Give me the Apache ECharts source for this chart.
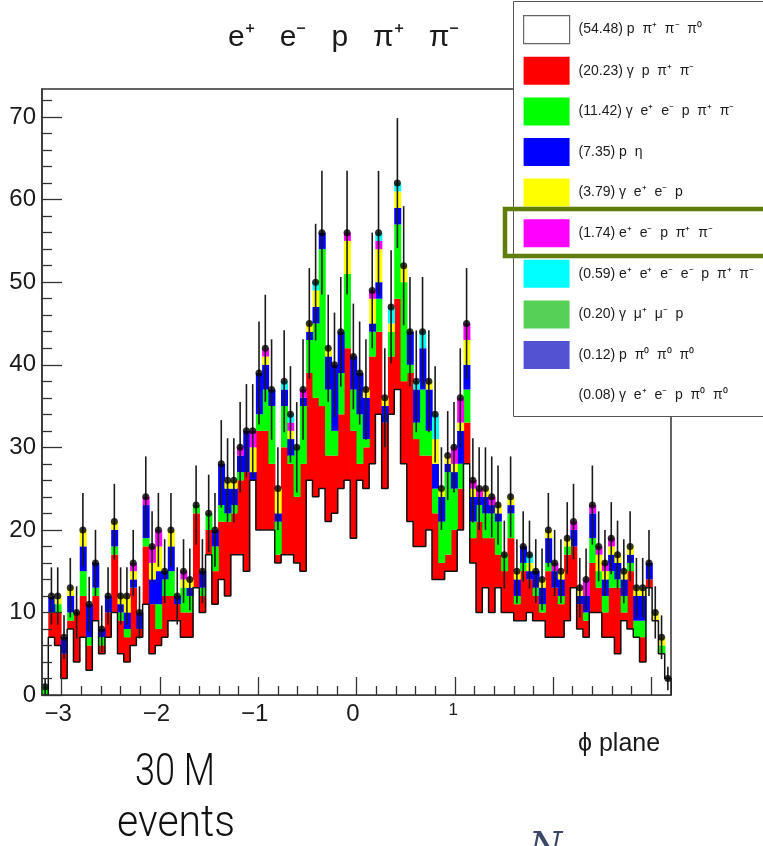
<!DOCTYPE html>
<html><head><meta charset="utf-8">
<script src="https://cdn.jsdelivr.net/npm/echarts@6.0.0/dist/echarts.min.js"></script>
<style>html,body{margin:0;padding:0;background:#fff;}#chart{width:763px;height:846px;}</style>
</head><body><div id="chart"></div>
<script>
// ---------------- data ----------------
const xRange = [-3.2, 3.2];
const nBins = 100;
const xTickValues = [-3, -2, -1, 0, 1];
const xTickLabels = ['\u22123', '\u22122', '\u22121', '0', '1'];
const xMajorTicks = [-3, -2, -1, 0, 1, 2, 3];
const xMinorTicks = [-2.8,-2.6,-2.4,-2.2,-1.8,-1.6,-1.4,-1.2,-0.8,-0.6,-0.4,-0.2,0.2,0.4,0.6,0.8,1.2,1.4,1.6,1.8,2.2,2.4,2.6,2.8];
const yTickValues = [0, 10, 20, 30, 40, 50, 60, 70];
const yMinorTicks = [2,4,6,8,12,14,16,18,22,24,26,28,32,34,36,38,42,44,46,48,52,54,56,58,62,64,66,68,72];
const yMax = 73.4;

// observed counts per bin (black points)
const dataCounts = [
 1,12,12,7,13,10,20,11,16,8,
 12,21,12,12,16,10,24,18,20,15,
 20,12,15,14,23,15,22,20,28,26,
 26,30,32,32,39,42,37,25,38,34,
 30,37,45,50,56,42,40,44,56,41,
 39,37,49,56,36,47,62,52,44,38,
 44,38,34,25,29,30,36,45,26,25,
 25,24,23,17,24,15,18,17,15,14,
 20,16,15,19,21,13,14,23,18,16,
 19,17,15,18,13,13,16,10,7,2];

// stacked components (bottom to top)
const cPPipPimPi0 = [
 0,7,6,2,8,4,7,3,9,5, 7,10,5,4,6,7,11,5,6,7, 9,9,7,7,13,10,17,11,14,12,
 17,17,15,26,20,20,20,16,17,17, 16,15,26,24,25,21,22,25,26,19, 26,25,28,34,25,34,37,28,21,18,
 18,20,14,14,15,15,20,28,16,10, 13,10,13,10,10,9,9,10,9,9, 7,7,7,9,13,8,7,10,10,7, 7,5,9,8,7,4,13,9,5,2];
const cGPPipPim = [
 0,3,4,3,1,6,5,3,3,1, 3,7,4,3,7,1,7,6,2,5, 3,2,3,3,9,2,3,4,7,9,
 5,9,12,0,12,12,8,1,13,11, 8,13,13,12,10,8,7,9,16,13, 2,5,13,10,8,7,11,10,18,13,
 11,9,8,2,2,5,5,5,3,11, 6,9,4,5,9,2,6,4,3,1, 8,6,4,8,5,3,2,6,3,3, 6,8,1,7,0,3,1,0,0,0];
const cGEEPPipPim = [
 1,0,1,0,1,0,3,1,1,1, 0,1,1,1,0,0,1,0,3,2, 3,0,3,2,1,1,2,3,2,1,
 1,1,0,0,2,5,7,4,5,1, 6,7,4,9,19,8,3,5,9,5, 6,1,3,4,0,3,9,12,1,2,
 8,3,3,5,10,5,3,4,2,2, 3,3,4,2,3,1,1,0,1,1, 1,0,1,1,0,0,1,3,2,2, 2,1,2,1,2,2,0,0,1,0];
const cPEta = [
 0,2,0,2,2,0,3,4,3,1, 2,2,1,2,1,2,4,3,4,1, 3,1,0,1,0,2,0,2,5,3,
 2,2,5,1,5,3,2,1,2,2, 0,1,1,2,2,4,8,5,0,4, 5,5,1,2,2,0,2,0,4,4,
 5,5,3,3,1,2,4,3,3,1, 2,1,1,0,1,2,2,1,2,2, 3,2,2,0,2,1,2,3,0,2, 2,2,2,1,3,3,2,0,0,0];
const cGEEP = [
 0,0,1,0,1,0,2,0,0,0, 0,1,1,2,1,0,0,2,3,0, 2,0,1,1,0,0,0,0,0,1,
 1,0,0,3,0,1,0,3,0,1, 0,0,1,2,0,1,0,0,4,0, 0,1,3,4,1,1,2,2,0,0,
 0,1,3,1,1,1,1,3,1,0, 1,0,1,0,1,1,0,1,0,1, 1,0,1,1,0,1,0,0,2,1, 1,1,1,1,1,1,0,1,1,0];
const cEEPPipPim = [
 0,0,0,0,0,0,0,0,0,0, 0,0,0,0,1,0,1,2,2,0, 0,0,1,0,0,0,0,0,0,0,
 0,1,0,2,0,1,0,0,0,1, 0,1,0,0,0,0,0,0,1,0, 0,0,1,1,0,0,0,0,0,0,
 0,0,0,0,0,2,3,2,1,1, 0,1,0,0,0,0,0,0,0,0, 0,1,0,0,1,0,2,1,1,1, 1,0,0,0,0,0,0,0,0,0];
const cEEEEPPipPim = [
 0,0,0,0,0,0,0,0,0,0, 0,0,0,0,0,0,0,0,0,0, 0,0,0,0,0,0,0,0,0,0,
 0,0,0,0,0,0,0,0,1,1, 0,0,0,1,0,0,0,0,0,0, 0,0,0,1,0,2,1,0,0,1,
 2,0,3,0,0,0,0,0,0,0, 0,0,0,0,0,0,0,1,0,0, 0,0,0,0,0,0,0,0,0,0, 0,0,0,0,0,0,0,0,0,0];
const cGMuMuP = [
 0,0,0,0,0,0,0,0,0,0, 0,0,0,0,0,0,0,0,0,0, 0,0,0,0,0,0,0,0,0,0,
 0,0,0,0,0,0,0,0,0,0, 0,0,0,0,0,0,0,0,0,0, 0,0,0,0,0,0,0,0,0,0,
 0,0,0,0,0,0,0,0,0,0, 0,0,0,0,0,0,0,0,0,0, 0,0,0,0,0,0,0,0,0,0, 0,0,0,0,0,0,0,0,0,0];
const cPPi0Pi0Pi0 = [
 0,0,0,0,0,0,0,0,0,0, 0,0,0,0,0,0,0,0,0,0, 0,0,0,0,0,0,0,0,0,0,
 0,0,0,0,0,0,0,0,0,0, 0,0,0,0,0,0,0,0,0,0, 0,0,0,0,0,0,0,0,0,0,
 0,0,0,0,0,0,0,0,0,0, 0,0,0,0,0,0,0,0,0,0, 0,0,0,0,0,0,0,0,0,0, 0,0,0,0,0,0,0,0,0,0];
const cGEEPPi0Pi0 = [
 0,0,0,0,0,0,0,0,0,0, 0,0,0,0,0,0,0,0,0,0, 0,0,0,0,0,0,0,0,0,0,
 0,0,0,0,0,0,0,0,0,0, 0,0,0,0,0,0,0,0,0,0, 0,0,0,0,0,0,0,0,0,0,
 0,0,0,0,0,0,0,0,0,0, 0,0,0,0,0,0,0,0,0,0, 0,0,0,0,0,0,0,0,0,0, 0,0,0,0,0,0,0,0,0,0];

const legendNames = [
 '(54.48) p  \u03c0\u207a  \u03c0\u207b  \u03c0\u2070',
 '(20.23) \u03b3  p  \u03c0\u207a  \u03c0\u207b',
 '(11.42) \u03b3  e\u207a  e\u207b  p  \u03c0\u207a  \u03c0\u207b',
 '(7.35) p  \u03b7',
 '(3.79) \u03b3  e\u207a  e\u207b  p',
 '(1.74) e\u207a  e\u207b  p  \u03c0\u207a  \u03c0\u207b',
 '(0.59) e\u207a  e\u207a  e\u207b  e\u207b  p  \u03c0\u207a  \u03c0\u207b',
 '(0.20) \u03b3  \u03bc\u207a  \u03bc\u207b  p',
 '(0.12) p  \u03c0\u2070  \u03c0\u2070  \u03c0\u2070',
 '(0.08) \u03b3  e\u207a  e\u207b  p  \u03c0\u2070  \u03c0\u2070'
];
const componentValues = [cPPipPimPi0, cGPPipPim, cGEEPPipPim, cPEta, cGEEP, cEEPPipPim, cEEEEPPipPim, cGMuMuP, cPPi0Pi0Pi0, cGEEPPi0Pi0];
const componentColors = ['#ffffff','#ff0000','#00ff00','#0000ff','#ffff00','#ff00ff','#00ffff','#56d056','#5252d2','#ffffff'];

// ---------------- chart ----------------
const FONT = '"Liberation Sans", Arial, Helvetica, sans-serif';
const binW = (xRange[1] - xRange[0]) / nBins;

function rectItem(color) {
  return function (params, api) {
    const lo = api.value(2), hi = api.value(3);
    if (!(hi > lo)) return null;
    const a = api.coord([api.value(0), lo]);
    const b = api.coord([api.value(1), hi]);
    return { type: 'rect', shape: { x: a[0], y: b[1], width: b[0] - a[0] + 0.7, height: a[1] - b[1] }, style: { fill: color } };
  };
}

const cum = dataCounts.map(() => 0);
const series = [];
componentValues.forEach((vals, k) => {
  const data = vals.map((v, i) => {
    const lo = cum[i]; cum[i] += v;
    return [xRange[0] + i * binW, xRange[0] + (i + 1) * binW, lo, cum[i]];
  });
  series.push({
    type: 'custom', name: legendNames[k], renderItem: rectItem(componentColors[k]),
    data: data, encode: { x: [0, 1], y: [2, 3] }, itemStyle: { color: componentColors[k] },
    clip: true, silent: true, z: 2
  });
});

// black outline of the bottom (white) histogram
const outline = [[xRange[0], 0]];
cPPipPimPi0.forEach((v, i) => outline.push([xRange[0] + i * binW, v]));
outline.push([xRange[1], cPPipPimPi0[nBins - 1]]);
outline.push([xRange[1], 0]);
series.push({ type: 'line', data: outline, step: 'end', symbol: 'none', silent: true, z: 3,
  lineStyle: { color: '#111', width: 1.5 } });

// error bars
series.push({
  type: 'custom', silent: true, z: 4, clip: true,
  data: dataCounts.map((n, i) => [xRange[0] + (i + 0.5) * binW, n, Math.sqrt(n)]),
  encode: { x: 0, y: 1 },
  renderItem: function (params, api) {
    const x = api.value(0), n = api.value(1), e = api.value(2);
    const p0 = api.coord([x, n - e]), p1 = api.coord([x, n + e]);
    return { type: 'line', shape: { x1: p0[0], y1: p0[1], x2: p1[0], y2: p1[1] }, style: { stroke: '#1a1a1a', lineWidth: 1.6 } };
  }
});
// data points
series.push({ type: 'scatter', silent: true, z: 5, symbol: 'circle', symbolSize: 7,
  itemStyle: { color: '#000' },
  data: dataCounts.map((n, i) => [xRange[0] + (i + 0.5) * binW, n]) });

const tickLine = { color: '#333', width: 1.3 };
const option = {
  animation: false,
  backgroundColor: '#ffffff',
  textStyle: { fontFamily: FONT },
  title: {
    text: 'e\u207a   e\u207b   p   \u03c0\u207a   \u03c0\u207b', left: 223, top: 18,
    textStyle: { fontSize: 30, fontWeight: 'normal', color: '#1a1a1a', fontFamily: FONT }
  },
  grid: { left: 42, right: 92, top: 89, bottom: 151, show: true, borderColor: '#333', borderWidth: 1.5,
    containLabel: false, outerBoundsMode: 'none' },
  xAxis: [
    { type: 'value', min: xRange[0], max: xRange[1], position: 'bottom', z: 6,
      axisLine: { show: true, onZero: false, lineStyle: { color: '#333', width: 1.5 } },
      axisTick: { show: true, inside: true, length: 18, customValues: xMajorTicks, lineStyle: tickLine },
      axisLabel: { show: true, customValues: xTickValues, margin: 7, fontSize: 24, color: '#1a1a1a', fontFamily: FONT,
        padding: [0, 7, 0, 0],
        formatter: function (v) { const k = xTickValues.indexOf(v); const t = k >= 0 ? xTickLabels[k] : ''; return v === 1 ? '{s|' + t + '}' : t; },
        rich: { s: { fontSize: 17, color: '#1a1a1a', fontFamily: FONT, padding: [0, 0, 0, 4] } } },
      splitLine: { show: false } },
    { type: 'value', min: xRange[0], max: xRange[1], position: 'bottom', z: 6,
      axisLine: { show: false, onZero: false },
      axisTick: { show: true, inside: true, length: 9, customValues: xMinorTicks, lineStyle: tickLine },
      axisLabel: { show: false }, splitLine: { show: false } }
  ],
  yAxis: [
    { type: 'value', min: 0, max: yMax, position: 'left', z: 6,
      axisLine: { show: true, onZero: false, lineStyle: { color: '#333', width: 1.5 } },
      axisTick: { show: true, inside: true, length: 20, customValues: yTickValues, lineStyle: tickLine },
      axisLabel: { show: true, customValues: yTickValues, margin: 6, fontSize: 24, color: '#1a1a1a', fontFamily: FONT },
      splitLine: { show: false } },
    { type: 'value', min: 0, max: yMax, position: 'left', z: 6,
      axisLine: { show: false, onZero: false },
      axisTick: { show: true, inside: true, length: 10, customValues: yMinorTicks, lineStyle: tickLine },
      axisLabel: { show: false }, splitLine: { show: false } }
  ],
  legend: {
    orient: 'vertical', left: 523, top: 15, itemWidth: 46, itemHeight: 28, itemGap: 12.6,
    icon: 'rect', selectedMode: false, z: 11, padding: 0,
    textStyle: { fontSize: 14, color: '#1a1a1a', fontFamily: FONT, padding: [0, 0, 0, 4] },
    data: legendNames.map((nm, k) => ({ name: nm,
      itemStyle: k === 0 ? { color: '#ffffff', borderColor: '#666', borderWidth: 1.2 } : { color: componentColors[k], borderWidth: 0 } }))
  },
  graphic: [
    { type: 'rect', z: 10, shape: { x: 513.5, y: 1.5, width: 300, height: 415 },
      style: { fill: '#ffffff', stroke: '#555', lineWidth: 1 } },
    { type: 'rect', z: 12, shape: { x: 505, y: 209, width: 300, height: 47 },
      style: { fill: 'none', stroke: '#5f7d0b', lineWidth: 4.5 } },
    { type: 'text', z: 12, x: 578, y: 744,
      style: { text: '\u03d5 plane', font: '25px "Liberation Sans", Arial, sans-serif', fill: '#1a1a1a', textVerticalAlign: 'middle' } },
    { type: 'text', z: 12, x: 175, y: 774, scaleX: 0.82,
      style: { text: '30 M', font: '300 44px Roboto, sans-serif', fill: '#111', textAlign: 'center', textVerticalAlign: 'middle' } },
    { type: 'text', z: 12, x: 176, y: 825, scaleX: 0.93,
      style: { text: 'events', font: '300 44px Roboto, sans-serif', fill: '#111', textAlign: 'center', textVerticalAlign: 'middle' } },
    { type: 'text', z: 12, x: 529, y: 829,
      style: { text: 'N', font: 'italic 38px "DejaVu Serif", serif', fill: '#3a4866' } }
  ],
  series: series
};
const chart = echarts.init(document.getElementById('chart'), null, { renderer: 'canvas' });
chart.setOption(option);
</script>
</body></html>
